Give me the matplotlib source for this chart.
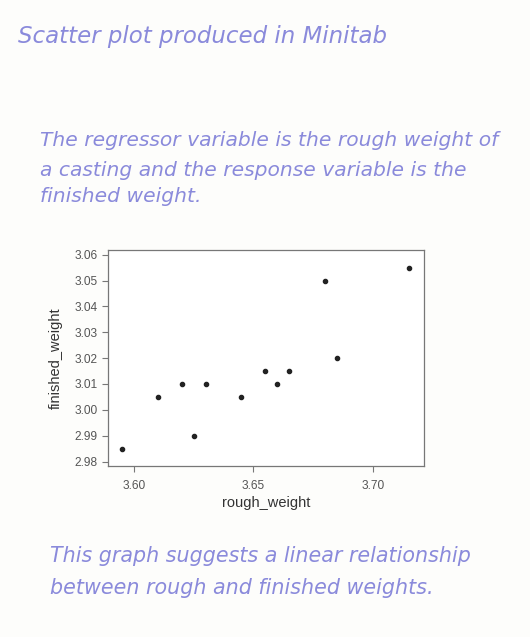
import matplotlib
matplotlib.use("Agg")
import matplotlib.pyplot as plt

rough_weight = [3.595, 3.610, 3.620, 3.625, 3.630, 3.645, 3.655, 3.660, 3.665, 3.680, 3.685, 3.715]
finished_weight = [2.985, 3.005, 3.010, 2.990, 3.010, 3.005, 3.015, 3.010, 3.015, 3.050, 3.020, 3.055]
xticks = [3.60, 3.65, 3.70]
yticks = [2.98, 2.99, 3.00, 3.01, 3.02, 3.03, 3.04, 3.05, 3.06]

title_note = "Scatter plot produced in Minitab"
top_note = ["The regressor variable is the rough weight of",
            "a casting and the response variable is the",
            "finished weight."]
bottom_note = ["This graph suggests a linear relationship",
               "between rough and finished weights."]

plt.rcParams['font.family'] = ['Liberation Sans', 'DejaVu Sans']
ink = '#8a8adb'
grey = '#555555'

fig = plt.figure(figsize=(5.3, 6.37), dpi=100, facecolor='#fdfdfb')
ax = fig.add_axes([0.2032, 0.2685, 0.597, 0.339])
ax.set_facecolor('white')
ax.scatter(rough_weight, finished_weight, s=9, color='#222222', zorder=3)
ax.set_xlim(3.589, 3.7215)
ax.set_ylim(2.9783, 3.0618)
ax.set_xticks(xticks)
ax.set_xticklabels(["%.2f" % v for v in xticks])
ax.set_yticks(yticks)
ax.set_yticklabels(["%.2f" % v for v in yticks])
for s in ax.spines.values():
    s.set_color('#777777')
    s.set_linewidth(0.9)
ax.tick_params(direction='out', length=4, width=0.8, color='#777777',
               labelsize=8.6, labelcolor=grey, pad=3)
ax.tick_params(axis='x', pad=6)
ax.set_xlabel("rough_weight", fontsize=10.5, color='#333333', labelpad=3)
ax.set_ylabel("finished_weight", fontsize=10.5, color='#333333', labelpad=9)

# handwritten notes
hand = dict(color=ink, style='italic', va='center', ha='left',
            family='DejaVu Sans')
fig.text(18 / 530, 1 - 36 / 637, title_note, fontsize=16.5, **hand)
for line, yy in zip(top_note, [140, 171, 196]):
    fig.text(40 / 530, 1 - yy / 637, line, fontsize=14.6, **hand)
for line, yy in zip(bottom_note, [556, 588]):
    fig.text(50 / 530, 1 - yy / 637, line, fontsize=14.9, **hand)

fig.savefig("out.png", dpi=100, facecolor=fig.get_facecolor())
